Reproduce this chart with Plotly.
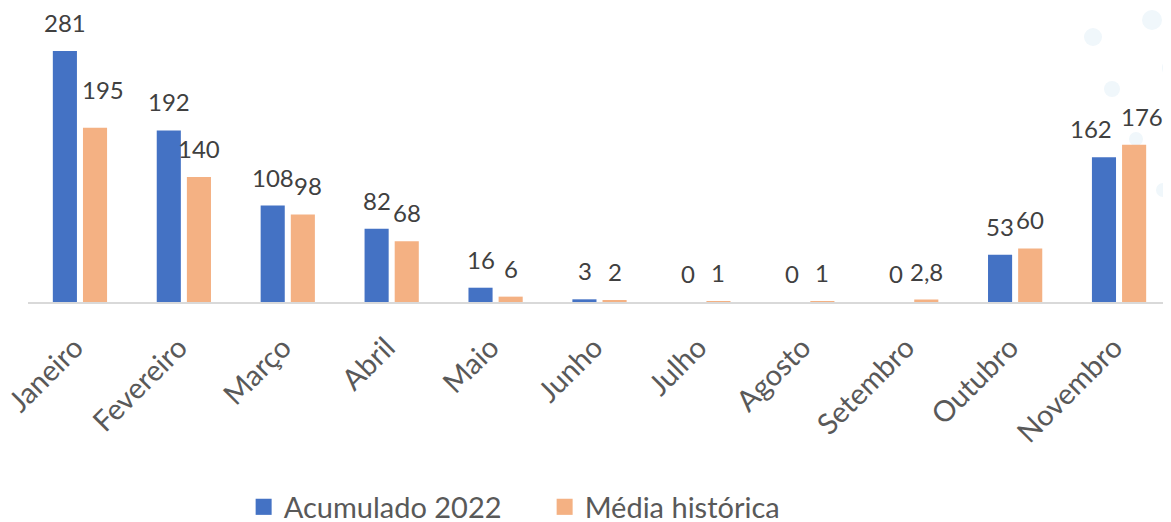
import plotly.graph_objects as go

categories = ["Janeiro", "Fevereiro", "Março", "Abril", "Maio", "Junho",
              "Julho", "Agosto", "Setembro", "Outubro", "Novembro"]
acumulado_2022 = [281, 192, 108, 82, 16, 3, 0, 0, 0, 53, 162]
media_historica = [195, 140, 98, 68, 6, 2, 1, 1, 2.8, 60, 176]

BLUE = "#4472C4"
ORANGE = "#F4B183"
FONT = "Lato, 'Open Sans', sans-serif"

# the page body has an 8px margin, so the figure is 8px smaller than the window
OFF = 8
W, H = 1171 - OFF, 522 - OFF
ML, MR, MT, MB = 20, 0, 26, 220
PW = W - ML - MR
PH = H - MT - MB

# small label nudges (pixels) to mimic the reference's label collision handling
label_nudge = {
    ("Acumulado 2022", "Novembro"): (-13, 0),
    ("Média histórica", "Novembro"): (8, 0),
    ("Média histórica", "Janeiro"): (8, 10),
    ("Média histórica", "Março"): (5, 0),
}


def fmt(v):
    return ("%g" % v).replace(".", ",")


fig = go.Figure()
fig.add_trace(go.Bar(name="Acumulado 2022", x=categories, y=acumulado_2022,
                     marker=dict(color=BLUE, line=dict(width=0)), showlegend=False))
fig.add_trace(go.Bar(name="Média histórica", x=categories, y=media_historica,
                     marker=dict(color=ORANGE, line=dict(width=0)), showlegend=False))
# legend entries with larger square symbols
for name, col in (("Acumulado 2022", BLUE), ("Média histórica", ORANGE)):
    fig.add_trace(go.Scatter(name=name, x=[None], y=[None], mode="markers",
                             marker=dict(symbol="square", size=17, color=col),
                             showlegend=True))

annotations = []
for name, series, shift in (("Acumulado 2022", acumulado_2022, -15),
                            ("Média histórica", media_historica, 15)):
    for c, v in zip(categories, series):
        dx, dy = label_nudge.get((name, c), (0, 0))
        annotations.append(dict(x=c, y=v, text=fmt(v), showarrow=False,
                                xanchor="center", yanchor="bottom",
                                xshift=shift + dx, yshift=12 + dy,
                                font=dict(family=FONT, size=24, color="#404040")))

# decorative background dots (window pixel positions -> paper coords)
dots = [(1093, 37, 9), (1152, 20, 10), (1172, 68, 10), (1112, 89, 8),
        (1136, 139, 7), (1163, 190, 7)]
shapes = []
for px, py, r in dots:
    fx, fy = px - OFF, py - OFF
    shapes.append(dict(type="circle", xref="paper", yref="paper", layer="below",
                       x0=(fx - r - ML) / PW, x1=(fx + r - ML) / PW,
                       y0=(H - MB - (fy + r)) / PH, y1=(H - MB - (fy - r)) / PH,
                       fillcolor="#F0F7FB", line=dict(width=0)))

fig.update_layout(
    width=W, height=H,
    margin=dict(l=ML, r=MR, t=MT, b=MB, pad=0, autoexpand=False),
    paper_bgcolor="white", plot_bgcolor="rgba(0,0,0,0)",
    barmode="group", bargap=0.42, bargroupgap=0.2,
    font=dict(family=FONT, color="#595959"),
    showlegend=True,
    legend=dict(orientation="h", x=0.452, xanchor="center", y=-0.765, yanchor="middle",
                font=dict(family=FONT, size=29, color="#595959"),
                entrywidth=256, itemwidth=30, itemsizing="trace"),
    annotations=annotations,
    shapes=shapes,
)
fig.update_xaxes(showline=True, linecolor="#D9D9D9", linewidth=2, tickangle=-45,
                 ticks="", tickfont=dict(family=FONT, size=29, color="#595959"),
                 ticklabelstandoff=15, ticklabelshift=-5,
                 showgrid=False, automargin=False)
fig.update_yaxes(range=[0, 300], visible=False, showgrid=False, automargin=False)

fig.write_html("out.html")
